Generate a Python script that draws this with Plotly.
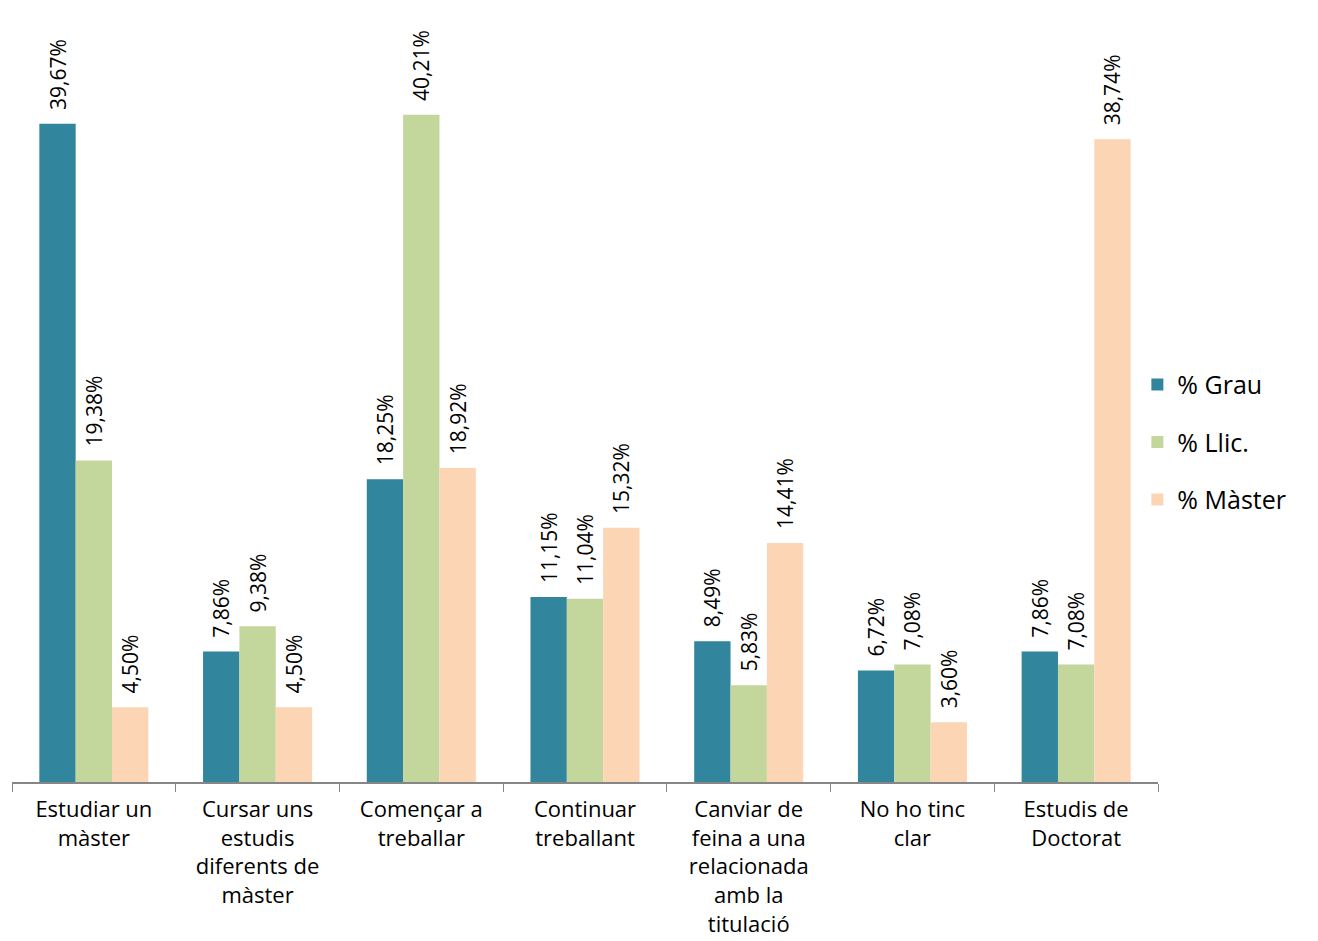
import plotly.graph_objects as go

categories = [
    "Estudiar un<br>màster",
    "Cursar uns<br>estudis<br>diferents de<br>màster",
    "Començar a<br>treballar",
    "Continuar<br>treballant",
    "Canviar de<br>feina a una<br>relacionada<br>amb la<br>titulació",
    "No ho tinc<br>clar",
    "Estudis de<br>Doctorat",
]
grau = [39.67, 7.86, 18.25, 11.15, 8.49, 6.72, 7.86]
llic = [19.38, 9.38, 40.21, 11.04, 5.83, 7.08, 7.08]
master = [4.50, 4.50, 18.92, 15.32, 14.41, 3.60, 38.74]
series_names = ["% Grau", "% Llic.", "% Màster"]
colors = ["#31859C", "#C3D69B", "#FCD5B5"]

def fmt(v):
    return "  " + f"{v:.2f}".replace(".", ",") + "%"

fig = go.Figure()
for i, (name, vals) in enumerate(zip(series_names, [grau, llic, master])):
    fig.add_trace(go.Bar(
        x=categories, y=vals, name=name,
        marker=dict(color=colors[i], line=dict(width=0)),
        text=[fmt(v) for v in vals],
        textposition="outside", textangle=-90,
        constraintext="none", cliponaxis=False,
        textfont=dict(family="Open Sans", size=21, color="#000000"),
        legendgroup=name,
    ))

fig.update_layout(
    width=1318, height=941,
    paper_bgcolor="white", plot_bgcolor="white",
    margin=dict(l=4, r=168, t=2, b=167),
    barmode="group", bargap=0.334, bargroupgap=0,
    font=dict(family="Open Sans", color="#000000"),
    legend=dict(
        x=0.982, y=0.44, xanchor="left", yanchor="middle",
        font=dict(size=25, family="Open Sans", color="#000000"),
        tracegroupgap=22, itemwidth=30,
    ),
    showlegend=True,
)
fig.update_xaxes(
    showline=True, linecolor="#868686", linewidth=1.5,
    ticks="outside", tickson="boundaries", ticklen=8, tickcolor="#868686",
    tickfont=dict(size=22, family="Open Sans", color="#000000"),
    ticklabelstandoff=7,
    showgrid=False,
)
fig.update_yaxes(range=[0, 46.53], visible=False, showgrid=False)

fig.write_html("out.html")
